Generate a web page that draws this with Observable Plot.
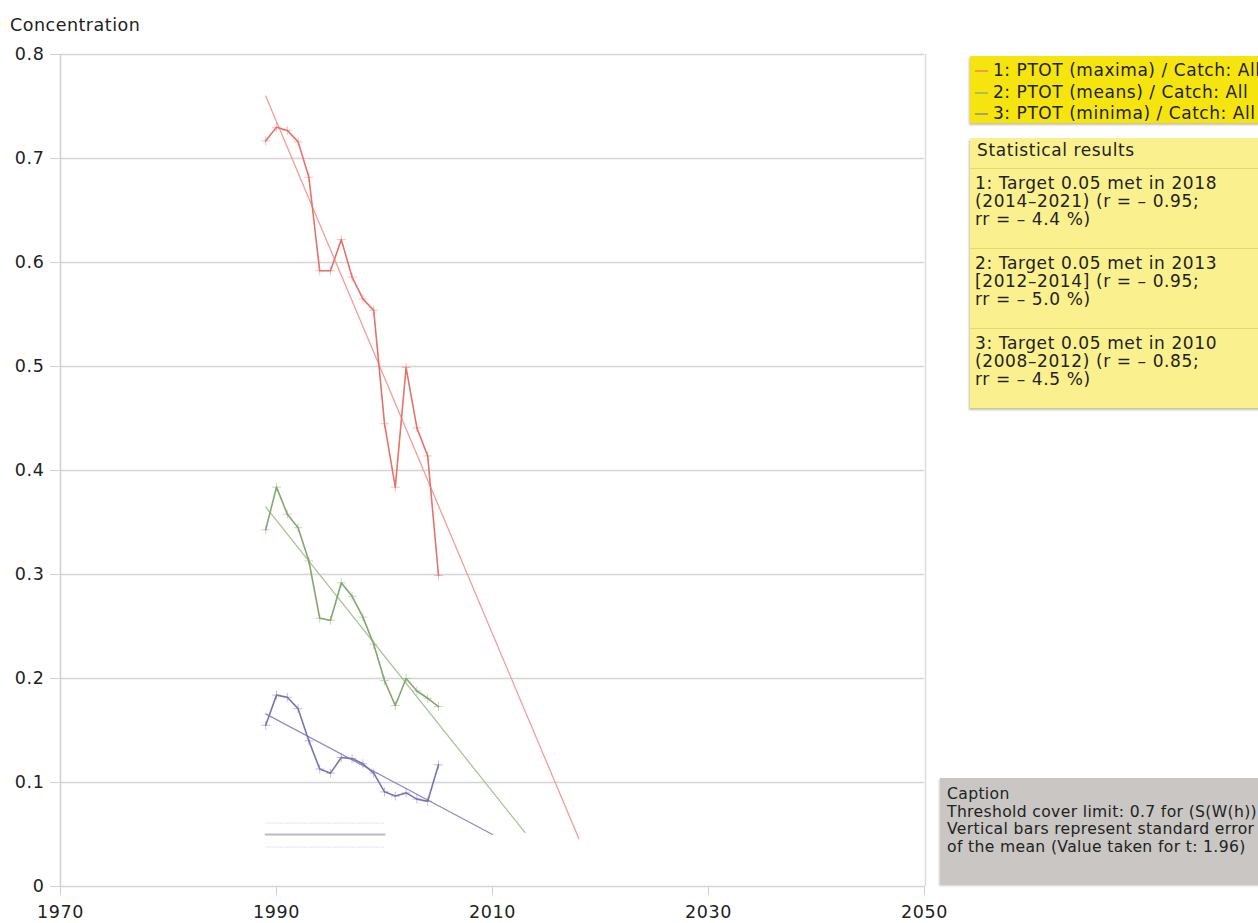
<!DOCTYPE html>
<html>
<head>
<meta charset="utf-8">
<script src="https://cdn.jsdelivr.net/npm/d3@7"></script>
<script src="https://cdn.jsdelivr.net/npm/@observablehq/plot@0.6"></script>
<style>
  html, body { margin: 0; padding: 0; background: #fff; }
  body { width: 1258px; height: 923px; position: relative; overflow: hidden; font-family: "DejaVu Sans", Verdana, sans-serif; color: #222; }
  #chart { position: absolute; left: 0; top: 0; }
  #chart svg text { letter-spacing: 0.6px; }
  .ylabel { position: absolute; left: 10px; top: 15px; font-size: 17.5px; letter-spacing: 0.5px; }
  .legend { position: absolute; left: 970px; top: 56px; width: 300px; height: 67px; background: #f6e40e; box-shadow: -1px 2px 2px rgba(90,80,0,0.35); font-size: 17px; letter-spacing: 0.55px; }
  .legend div { position: absolute; left: 23px; white-space: nowrap; }
  .legend span.sw { position: absolute; left: -18px; top: 10px; width: 13px; height: 2px; }
  .stats { position: absolute; left: 970px; top: 138px; width: 300px; height: 270px; background: #fbf08e; box-shadow: -1px 2px 2px rgba(90,80,0,0.35); font-size: 17px; line-height: 18px; letter-spacing: 0.6px; }
  .stats .hdr { position: absolute; left: 7px; top: 3px; }
  .stats .sep { position: absolute; left: 0; width: 300px; height: 1px; background: #e6d870; }
  .stats .ent { position: absolute; left: 5px; white-space: nowrap; }
  .caption { position: absolute; left: 940px; top: 778px; width: 330px; height: 107px; background: #c9c6c3; box-shadow: -1px 1px 2px rgba(0,0,0,0.2); font-size: 15.6px; line-height: 17.7px; letter-spacing: 0.35px; }
  .caption div { position: absolute; left: 7px; top: 8px; white-space: nowrap; }
</style>
</head>
<body>
<div id="chart"></div>
<div class="ylabel">Concentration</div>
<script>
// ---- data ----
const years = [1989,1990,1991,1992,1993,1994,1995,1996,1997,1998,1999,2000,2001,2002,2003,2004,2005];
const maxima = [0.717,0.730,0.727,0.716,0.682,0.592,0.592,0.622,0.586,0.565,0.554,0.445,0.384,0.499,0.441,0.414,0.299];
const means  = [0.343,0.384,0.358,0.345,0.313,0.258,0.256,0.292,0.279,0.259,0.233,0.198,0.174,0.200,0.188,0.181,0.173];
const minima = [0.155,0.184,0.182,0.171,0.140,0.113,0.109,0.124,0.123,0.118,0.109,0.091,0.087,0.090,0.084,0.082,0.117];

// trend lines (start year, start value, end year, end value)
const trendYears = { maxima: [1989, 2018], means: [1989, 2013], minima: [1989, 2010] };
const trendValues = { maxima: [0.760, 0.046], means: [0.365, 0.052], minima: [0.166, 0.050] };

// target line
const targetYears = [1989, 2000];
const targetValue = 0.05;
const targetBand = [0.038, 0.061];

const seriesNames = ["maxima", "means", "minima"];
const seriesLabels = ["1: PTOT (maxima) / Catch: All", "2: PTOT (means) / Catch: All", "3: PTOT (minima) / Catch: All"];
const xTicks = [1970, 1990, 2010, 2030, 2050];
const yTicks = [0, 0.1, 0.2, 0.3, 0.4, 0.5, 0.6, 0.7, 0.8];
const yTickLabels = ["0", "0.1", "0.2", "0.3", "0.4", "0.5", "0.6", "0.7", "0.8"];

const statsTitle = "Statistical results";
const statsLines = [
  ["1: Target 0.05 met in 2018", "(2014\u20132021) (r = \u2013 0.95;", "rr = \u2013 4.4 %)"],
  ["2: Target 0.05 met in 2013", "[2012\u20132014] (r = \u2013 0.95;", "rr = \u2013 5.0 %)"],
  ["3: Target 0.05 met in 2010", "(2008\u20132012) (r = \u2013 0.85;", "rr = \u2013 4.5 %)"]
];
const captionLines = ["Caption", "Threshold cover limit: 0.7 for (S(W(h))", "Vertical bars represent standard error", "of the mean (Value taken for t: 1.96)"];

// ---- style ----
const colors = { maxima: "#e4736d", means: "#86a671", minima: "#7676b6" };
const trendColors = { maxima: "#f29e98", means: "#a8c596", minima: "#8e8ec9" };

// ---- tables ----
const values = { maxima, means, minima };
const points = seriesNames.flatMap(s => years.map((y, i) => ({ s, year: y, v: values[s][i] })));
const trends = seriesNames.flatMap(s => trendYears[s].map((y, i) => ({ s, year: y, v: trendValues[s][i] })));
const target = targetYears.map(y => ({ year: y, v: targetValue }));
const bandLo = targetYears.map(y => ({ year: y, v: targetBand[0] }));
const bandHi = targetYears.map(y => ({ year: y, v: targetBand[1] }));

const chart = Plot.plot({
  width: 965,
  height: 923,
  marginLeft: 60,
  marginRight: 41,
  marginTop: 54,
  marginBottom: 37,
  style: { fontFamily: "DejaVu Sans, Verdana, sans-serif", fontSize: "17.5px", color: "#222", background: "transparent", overflow: "visible" },
  x: { domain: [1970, 2050], label: null },
  y: { domain: [0, 0.8], label: null },
  marks: [
    Plot.gridY(yTicks, { stroke: "#d4d4d4", strokeOpacity: 1, strokeWidth: 1.5 }),
    Plot.ruleX([1970], { stroke: "#d0d0d0", strokeWidth: 1.5 }),
    Plot.ruleX([2050], { stroke: "#dcdcdc", strokeWidth: 1.5, dx: 1 }),
    Plot.axisX({ ticks: xTicks, tickFormat: d => String(d), stroke: "#d0d0d0", fontSize: 17.5, tickSize: 9, tickPadding: 10 }),
    Plot.axisY({ ticks: yTicks, tickFormat: (d, i) => yTickLabels[i], stroke: "#d0d0d0", fontSize: 17.5, tickSize: 10, tickPadding: 6 }),
    Plot.line(bandLo, { x: "year", y: "v", stroke: "#d8d8e4", strokeOpacity: 0.6, strokeDasharray: "1,2" }),
    Plot.line(bandHi, { x: "year", y: "v", stroke: "#d8d8e4", strokeOpacity: 0.6, strokeDasharray: "1,2" }),
    Plot.line(target, { x: "year", y: "v", stroke: "#b8b8cc", strokeWidth: 2.2, strokeDasharray: "1.2,1.3" }),
    Plot.line(trends, { x: "year", y: "v", z: "s", stroke: d => trendColors[d.s], strokeWidth: 1.3 }),
    Plot.line(points, { x: "year", y: "v", z: "s", stroke: d => colors[d.s], strokeWidth: 1.6 }),
    Plot.dot(points, { x: "year", y: "v", symbol: "plus", r: 3, stroke: d => colors[d.s], strokeOpacity: 0.45, strokeWidth: 1 })
  ]
});
document.getElementById("chart").appendChild(chart);

// ---- legend ----
const legend = document.createElement("div");
legend.className = "legend";
seriesNames.forEach((s, i) => {
  const row = document.createElement("div");
  row.style.top = (4 + i * 21.5) + "px";
  const sw = document.createElement("span");
  sw.className = "sw";
  sw.style.background = colors[s];
  sw.style.opacity = "0.6";
  row.appendChild(sw);
  row.appendChild(document.createTextNode(seriesLabels[i]));
  legend.appendChild(row);
});
document.body.appendChild(legend);

// ---- stats ----
const stats = document.createElement("div");
stats.className = "stats";
const hdr = document.createElement("div");
hdr.className = "hdr";
hdr.textContent = statsTitle;
stats.appendChild(hdr);
const sepTops = [30, 110, 190];
statsLines.forEach((lines, i) => {
  const sep = document.createElement("div");
  sep.className = "sep";
  sep.style.top = sepTops[i] + "px";
  stats.appendChild(sep);
  const ent = document.createElement("div");
  ent.className = "ent";
  ent.style.top = (sepTops[i] + 6) + "px";
  ent.innerHTML = lines.join("<br>");
  stats.appendChild(ent);
});
document.body.appendChild(stats);

// ---- caption ----
const cap = document.createElement("div");
cap.className = "caption";
const capText = document.createElement("div");
capText.innerHTML = captionLines.join("<br>");
cap.appendChild(capText);
document.body.appendChild(cap);
</script>
</body>
</html>
